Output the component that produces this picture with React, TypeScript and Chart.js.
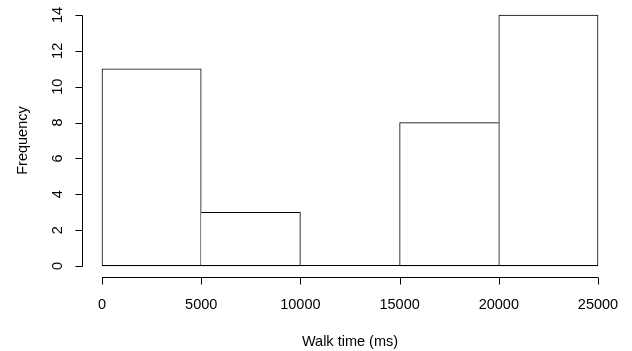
import React, { useEffect, useRef } from "react";
import { Chart, registerables } from "chart.js";

Chart.register(...registerables);

// Histogram data
const breaks = [0, 5000, 10000, 15000, 20000, 25000];
const counts = [11, 3, 0, 8, 14];
const xTickLabels = ["0", "5000", "10000", "15000", "20000", "25000"];
const yTickValues = [0, 2, 4, 6, 8, 10, 12, 14];
const yTickLabels = ["0", "2", "4", "6", "8", "10", "12", "14"];
const xTitle = "Walk time (ms)";
const yTitle = "Frequency";

const FONT = '14.5px "Liberation Sans", Arial, sans-serif';

const rAxesPlugin = {
  id: "rAxes",
  afterDraw(chart: any) {
    const { ctx, chartArea } = chart;
    const xs = chart.scales.x;
    const ys = chart.scales.y;
    ctx.save();
    ctx.strokeStyle = "#000";
    ctx.lineWidth = 1;
    ctx.fillStyle = "#000";
    ctx.font = FONT;

    // baseline of histogram (zero-height bins still draw a line)
    const by = Math.round(ys.getPixelForValue(0)) - 0.5;
    ctx.beginPath();
    ctx.moveTo(xs.getPixelForValue(breaks[0]), by);
    ctx.lineTo(xs.getPixelForValue(breaks[breaks.length - 1]), by);
    ctx.stroke();

    // x axis
    const axY = Math.round(chartArea.bottom + 11) + 0.5;
    const xFirst = xs.getPixelForValue(breaks[0]);
    const xLast = xs.getPixelForValue(breaks[breaks.length - 1]);
    ctx.beginPath();
    ctx.moveTo(xFirst, axY);
    ctx.lineTo(xLast, axY);
    breaks.forEach((b) => {
      const px = Math.round(xs.getPixelForValue(b)) + 0.5;
      ctx.moveTo(px, axY);
      ctx.lineTo(px, axY + 7);
    });
    ctx.stroke();
    ctx.textAlign = "center";
    ctx.textBaseline = "alphabetic";
    breaks.forEach((b, i) => {
      ctx.fillText(xTickLabels[i], xs.getPixelForValue(b), axY + 31);
    });
    ctx.fillText(xTitle, (xFirst + xLast) / 2, 346);

    // y axis
    const axX = Math.round(chartArea.left - 20) + 0.5;
    const yFirst = ys.getPixelForValue(yTickValues[0]);
    const yLast = ys.getPixelForValue(yTickValues[yTickValues.length - 1]);
    ctx.beginPath();
    ctx.moveTo(axX, Math.round(yFirst) + 0.5);
    ctx.lineTo(axX, Math.round(yLast) + 0.5);
    yTickValues.forEach((v) => {
      const py = Math.round(ys.getPixelForValue(v)) + 0.5;
      ctx.moveTo(axX, py);
      ctx.lineTo(axX - 7, py);
    });
    ctx.stroke();
    yTickValues.forEach((v, i) => {
      ctx.save();
      ctx.translate(axX - 21, ys.getPixelForValue(v));
      ctx.rotate(-Math.PI / 2);
      ctx.fillText(yTickLabels[i], 0, 0);
      ctx.restore();
    });
    ctx.save();
    ctx.translate(27, (yFirst + yLast) / 2);
    ctx.rotate(-Math.PI / 2);
    ctx.fillText(yTitle, 0, 0);
    ctx.restore();

    ctx.restore();
  },
};

export default function App() {
  const ref = useRef<HTMLCanvasElement>(null);
  useEffect(() => {
    if (!ref.current) return;
    const last = counts.length - 1;
    const chart = new Chart(ref.current, {
      type: "bar",
      data: {
        datasets: [
          {
            data: counts.map((c, i) => ({ x: (breaks[i] + breaks[i + 1]) / 2, y: c })),
            backgroundColor: "#ffffff",
            borderColor: "#000000",
            borderSkipped: false,
            borderWidth: (c: any) => {
              const i = c.dataIndex;
              const v = counts[i];
              return {
                top: 1,
                bottom: 1,
                left: i === 0 || counts[i - 1] <= v ? 1 : 0,
                right: i === last || counts[i + 1] < v ? 1 : 0,
              };
            },
            barPercentage: 1,
            categoryPercentage: 1,
            clip: false,
          } as any,
        ],
      },
      options: {
        animation: false,
        responsive: false,
        devicePixelRatio: 1,
        layout: { padding: { left: 102, top: 15, right: 34, bottom: 85 } },
        plugins: { legend: { display: false }, tooltip: { enabled: false }, title: { display: false } },
        scales: {
          x: {
            type: "linear",
            display: false,
            offset: false,
            min: breaks[0],
            max: breaks[breaks.length - 1],
            ticks: { stepSize: breaks[1] - breaks[0] },
          },
          y: {
            type: "linear",
            display: false,
            min: yTickValues[0],
            max: yTickValues[yTickValues.length - 1],
          },
        },
      } as any,
      plugins: [rAxesPlugin],
    });
    return () => chart.destroy();
  }, []);
  return (
    <div style={{ position: "fixed", left: 0, top: 0, width: 632, height: 351, background: "#fff" }}>
      <canvas ref={ref} width={632} height={351} style={{ display: "block" }} />
    </div>
  );
}
